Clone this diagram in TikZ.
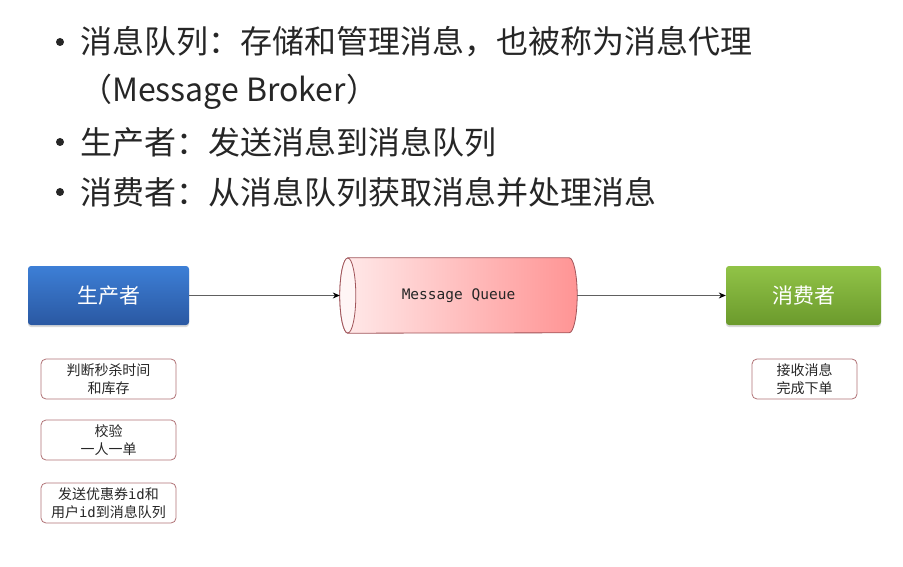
\documentclass[tikz,border=0pt]{standalone}
\usepackage{fontspec}
\setmainfont{Noto Sans CJK SC}
\setmonofont{DejaVu Sans Mono}
\usetikzlibrary{arrows.meta,shadows,backgrounds}
\definecolor{txt}{HTML}{262626}
\definecolor{notered}{HTML}{B07276}
\definecolor{mqline}{HTML}{A0555A}
\definecolor{bluetop}{HTML}{3D7FD6}
\definecolor{bluebot}{HTML}{2A58A2}
\definecolor{greentop}{HTML}{91C347}
\definecolor{greenbot}{HTML}{6B9A2C}
\begin{document}
\begin{tikzpicture}[x=1pt,y=-1pt,
   role/.style={rounded corners=3pt,minimum height=59pt,text=white,
     font=\fontsize{21}{25}\selectfont,
     drop shadow={opacity=0.3,shadow xshift=0pt,shadow yshift=-2pt}},
   note/.style={draw=notered,line width=0.8pt,rounded corners=5pt,fill=white,
     minimum height=40pt,align=center,inner sep=1pt,text=txt,
     font=\fontsize{14}{17.5}\selectfont},
   flow/.style={draw=gray!75!black,line width=0.7pt,-{Stealth[black,length=7pt,width=6pt]}}]
   \useasboundingbox (0,0) rectangle (903,567);
   \foreach \y/\t in
     { 42/{消息队列：存储和管理消息，也被称为消息代理},
      142/{生产者：发送消息到消息队列},
      192/{消费者：从消息队列获取消息并处理消息}
     }
     {
     \fill[txt] (60,\y) circle (4pt);
     \node[anchor=west,inner sep=0pt,text=txt,font=\fontsize{32}{36}\selectfont] (item\y) at (80,\y) {\t};
     }
   \node[anchor=west,inner sep=0pt,text=txt,font=\fontsize{32}{36}\selectfont] (broker) at (80,92) {（Message Broker）};

   \node[role,minimum width=161pt,top color=bluetop,bottom color=bluebot] (producer) at (108.5,295.5) {生产者};
   \node[role,minimum width=155pt,top color=greentop,bottom color=greenbot] (consumer) at (803.5,295.5) {消费者};
   \node[minimum width=237pt,minimum height=75pt,inner sep=0pt,font=\ttfamily\fontsize{14.5}{17}\selectfont,text=txt] (mq) at (458.5,295.5) {Message Queue};
   \begin{scope}[on background layer]
     \path[draw=mqline,line width=0.8pt,left color=red!8,right color=red!42]
       ([xshift=8pt]mq.north west) -- ([xshift=-8pt]mq.north east)
       arc[start angle=90,end angle=-90,x radius=8pt,y radius=37.5pt]
       -- ([xshift=8pt]mq.south west)
       arc[start angle=270,end angle=90,x radius=8pt,y radius=37.5pt] -- cycle;
     \filldraw[fill=red!4,draw=mqline,line width=0.8pt] ([xshift=8pt]mq.west) ellipse [x radius=8pt,y radius=37.5pt];
   \end{scope}
   \draw[flow] (producer) -- (mq);
   \draw[flow] (mq) -- (consumer);

   \foreach \y/\t/\n in
     {379/{判断秒杀时间\\和库存}/p1,
      440/{校验\\一人一单}/p2,
      503/{发送优惠券\texttt{id}和\\用户\texttt{id}到消息队列}/p3
     }
     \node[note,minimum width=135pt] (\n) at (108.5,\y) {\t};
   \node[note,minimum width=105pt] (c1) at (804.5,379) {接收消息\\完成下单};
\end{tikzpicture}
\end{document}
